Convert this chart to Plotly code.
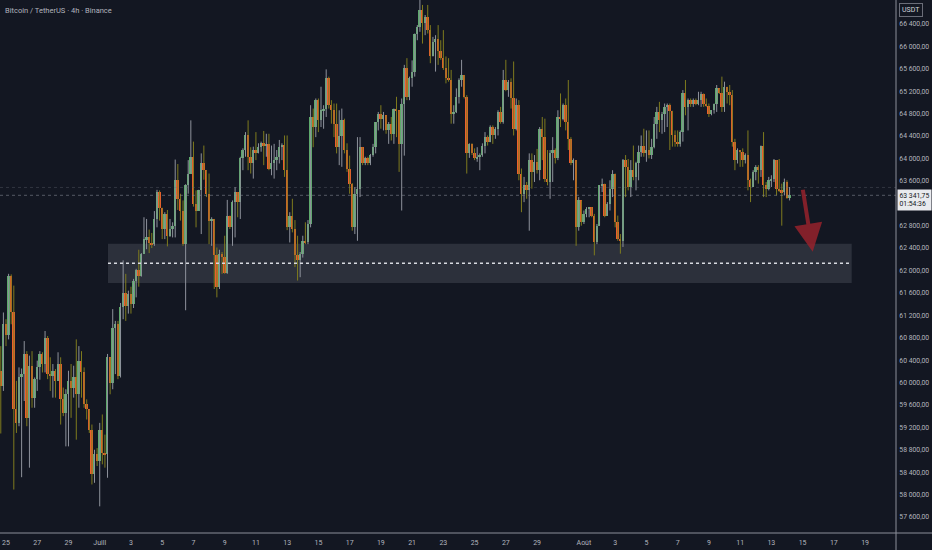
import pandas as pd
import plotly.graph_objects as go

# ---------------- data ----------------
first_time = "2024-06-24 16:00"   # first 4h candle
first_open = 60210

closes = [
    59940, 61040, 60850, 61910, 61250, 59520, 59280, 60090, 60150, 60510,
    59370, 60300, 59730, 60060, 60270, 60510, 60330, 60800, 60150, 60120,
    60210, 60030, 60330, 59700, 59460, 59790, 60030, 59910, 60090, 59790,
    60390, 60180, 59610, 59520, 59160, 58360, 58720, 58600, 59160, 58750,
    58720, 60450, 60000, 60980, 61040, 60120, 61340, 61590, 61370, 61580,
    61410, 61820, 62000, 61910, 62300, 62560, 62590, 62490, 62470, 62920,
    63400, 63120, 62740, 63010, 62620, 62740, 62790, 63620, 63280, 63070,
    62470, 63520, 63730, 64030, 63190, 63070, 63430, 63910, 63790, 63370,
    62890, 62920, 62270, 61700, 62300, 62240, 61950, 62980, 62770, 63220,
    63400, 63220, 64000, 64150, 64410, 64030, 63910, 64150, 64100, 64210,
    64280, 64230, 64260, 63820, 63910, 63970, 64030, 64210, 64240, 63790,
    62770, 62980, 62740, 62270, 62180, 62300, 62530, 62500, 62830, 64740,
    64560, 65040, 64680, 64860, 64890, 65430, 64950, 64860, 64620, 64210,
    64400, 64680, 64150, 63820, 63550, 62770, 63370, 63460, 64200, 63910,
    64000, 63910, 64070, 64200, 64650, 64800, 64710, 64770, 64500, 64620,
    64440, 64890, 64860, 64260, 64980, 65610, 65100, 65430, 65550, 66230,
    66350, 66650, 66410, 66530, 66290, 65820, 66080, 66140, 65910, 65790,
    65610, 65430, 65400, 64800, 64830, 65100, 65400, 65490, 65100, 64090,
    64260, 64090, 64000, 64030, 64060, 64230, 64380, 64290, 64560, 64410,
    64530, 64830, 64650, 65400, 65220, 65370, 65070, 64530, 64950, 63730,
    63370, 63520, 63430, 63970, 63760, 63940, 63790, 64530, 64380, 63640,
    63580, 64090, 64150, 64000, 64740, 64710, 64950, 64650, 64350, 63910,
    63970, 62770, 63250, 62860, 63010, 63100, 63130, 62980, 62500, 62800,
    63520, 63550, 62980, 63190, 63460, 63730, 62860, 62560, 62530, 63970,
    63850, 63490, 63790, 63670, 63910, 64120, 64230, 64090, 64150, 64060,
    64210, 64620, 64830, 64680, 64800, 64920, 64950, 64850, 64410, 64290,
    64260, 64470, 65160, 64920, 65040, 64980, 65040, 64980, 65040, 65150,
    64980, 64930, 64800, 64860, 64980, 65250, 65170, 64920, 65280, 65190,
    65130, 64290, 63970, 64150, 64120, 63970, 64060, 63610, 63490, 63760,
    63850, 63790, 64220, 63520, 63460, 63610, 63640, 63970, 63460, 63430,
    63400, 63580, 63300, 63341.75,
]

highs = [
    60650, 61250, 61130, 61940, 61930, 61730, 60030, 60270, 60250, 60740,
    60560, 60480, 60560, 60090, 60390, 60560, 60540, 60920, 60830, 60450,
    60330, 60240, 60540, 60450, 59910, 59880, 60210, 60330, 60300, 60770,
    60650, 60560, 60270, 59700, 59520, 59250, 58800, 58830, 59280, 59430,
    59070, 60510, 60330, 61310, 61100, 61100, 61420, 62180, 61940, 61640,
    61710, 61850, 62030, 62370, 62310, 62950, 62920, 62730, 62670, 63060,
    63440, 63430, 63120, 63040, 63080, 62920, 62860, 63980, 63900, 63370,
    63250, 63540, 63970, 64680, 64300, 63430, 63440, 64090, 64230, 63790,
    63730, 62950, 62920, 62410, 62370, 62330, 62620, 63260, 62980, 63250,
    63490, 63400, 64030, 64180, 64470, 64680, 64200, 64210, 64470, 64270,
    64300, 64490, 64440, 64440, 64230, 64260, 64150, 64330, 64270, 64410,
    64410, 63040, 63280, 62900, 62620, 62330, 62620, 62860, 62900, 64950,
    64890, 65070, 65070, 65280, 64950, 65590, 65460, 65040, 64980, 64980,
    64860, 64890, 64710, 64270, 64050, 63560, 63490, 64380, 64380, 64200,
    64030, 64030, 64080, 64260, 64650, 64830, 64950, 64830, 64740, 64650,
    64740, 64890, 65100, 64860, 65070, 65670, 65790, 65460, 65750, 66230,
    66380, 66830, 66740, 66560, 66740, 66380, 66170, 66200, 66380, 66110,
    66290, 65820, 65790, 65580, 64950, 65250, 65430, 65760, 65490, 65130,
    64270, 64270, 64180, 64200, 64090, 64270, 64470, 64410, 64590, 64590,
    64560, 64860, 64920, 65580, 65760, 65400, 65430, 65730, 65070, 65040,
    63820, 63670, 63580, 64090, 64090, 64060, 64170, 64560, 64740, 64710,
    64150, 64150, 64380, 64180, 64860, 65160, 64980, 65070, 65400, 64380,
    64000, 63850, 63310, 63070, 63070, 63130, 63130, 63100, 63010, 62830,
    63520, 63640, 63550, 63220, 63610, 63790, 63580, 62980, 62650, 63990,
    64060, 63990, 63970, 64230, 63940, 64230, 64410, 64530, 64500, 64500,
    64350, 64740, 64920, 65010, 64830, 64980, 64980, 64980, 64830, 64500,
    64500, 64500, 65220, 65400, 65070, 65070, 65070, 65070, 65190, 65190,
    65160, 65070, 64980, 64860, 64980, 65310, 65250, 65460, 65370, 65220,
    65310, 65220, 64350, 64180, 64150, 64180, 64090, 64500, 63640, 63790,
    63880, 63880, 64230, 64470, 63580, 63670, 63700, 63990, 63910, 63990,
    63550, 63640, 63610, 63490,
]

lows = [
    59090, 59850, 60650, 60770, 61040, 58090, 59100, 59220, 58310, 59670,
    59220, 58480, 59550, 59550, 59850, 60050, 60180, 60180, 60060, 59850,
    59730, 59730, 60030, 59250, 59400, 58860, 58860, 59370, 59730, 58980,
    59550, 59730, 59550, 59340, 59100, 58180, 58210, 58510, 57790, 58540,
    58480, 58300, 59790, 59880, 60150, 60060, 60090, 61130, 61100, 61230,
    61230, 61330, 61520, 61710, 61890, 62410, 62380, 62310, 62400, 62440,
    62770, 62890, 62560, 62560, 62430, 62600, 62590, 62590, 63080, 62890,
    62440, 61290, 63370, 63730, 63140, 62770, 63070, 62650, 63620, 63310,
    62470, 62440, 61670, 61520, 61670, 61940, 61940, 61940, 62740, 62440,
    62590, 62950, 62920, 63790, 64030, 63790, 63730, 63640, 63970, 64090,
    64120, 63880, 64030, 63790, 63700, 63640, 63790, 63910, 63970, 63670,
    62720, 62500, 62680, 62060, 61820, 61880, 62230, 62470, 62470, 62770,
    64200, 64380, 64470, 64560, 64530, 64740, 64890, 64620, 64380, 64090,
    63880, 63850, 64090, 63760, 63370, 62710, 62650, 62530, 63310, 63880,
    63880, 63880, 63880, 64030, 64090, 64500, 64530, 64500, 64440, 64260,
    64320, 64260, 64380, 63760, 63070, 64050, 65040, 65040, 65280, 65460,
    66110, 66260, 66050, 66200, 66230, 65700, 65820, 65550, 65670, 65760,
    65580, 65340, 65370, 64620, 64620, 64810, 64980, 65280, 65070, 63730,
    64010, 64060, 63970, 63940, 63790, 64030, 64090, 64230, 64320, 64260,
    64350, 64410, 64620, 64620, 65200, 65100, 64890, 64410, 64500, 63610,
    63040, 63220, 63280, 62710, 63460, 63580, 63730, 63610, 63970, 63580,
    63520, 63280, 63580, 63910, 63970, 64560, 64680, 64500, 64150, 63880,
    63610, 62440, 62710, 62800, 62830, 62950, 62950, 62950, 62270, 62470,
    62800, 63400, 62950, 63040, 63070, 63310, 62770, 62530, 62300, 62420,
    63310, 63430, 63310, 63610, 63430, 63610, 64030, 64030, 63940, 64000,
    63990, 64180, 64350, 64470, 64440, 64470, 64560, 64150, 64210, 64210,
    64210, 64210, 64300, 64770, 64500, 64920, 64920, 64950, 64950, 64920,
    64920, 64920, 64740, 64770, 64800, 64830, 65150, 64830, 64830, 64980,
    64950, 64210, 63790, 63910, 63850, 63850, 63910, 63430, 63220, 63520,
    63610, 63550, 63670, 63310, 63310, 63430, 63490, 63580, 63340, 63400,
    62800, 63340, 63280, 63250,
]

# x-axis tick labels (every two days)
tick_dates = [
    "2024-06-25", "2024-06-27", "2024-06-29", "2024-07-01", "2024-07-03",
    "2024-07-05", "2024-07-07", "2024-07-09", "2024-07-11", "2024-07-13",
    "2024-07-15", "2024-07-17", "2024-07-19", "2024-07-21", "2024-07-23",
    "2024-07-25", "2024-07-27", "2024-07-29", "2024-08-01", "2024-08-03",
    "2024-08-05", "2024-08-07", "2024-08-09", "2024-08-11", "2024-08-13",
    "2024-08-15", "2024-08-17", "2024-08-19",
]
tick_labels = [
    "25", "27", "29", "Juill", "3", "5", "7", "9", "11", "13", "15", "17",
    "19", "21", "23", "25", "27", "29", "Août", "3", "5", "7", "9", "11",
    "13", "15", "17", "19",
]
price_ticks = [57600, 58000, 58400, 58800, 59200, 59600, 60000, 60400, 60800,
               61200, 61600, 62000, 62400, 62800, 63600, 64000, 64400, 64800,
               65200, 65600, 66000, 66400]

# drawings
zone_start, zone_end = "2024-07-01 12:43", "2024-08-18 03:25"
zone_low, zone_high, zone_mid = 61777, 62475, 62127
arrow_tail = ("2024-08-15 00:00", 63467)
arrow_tip = ("2024-08-15 15:30", 62336)
last_price = 63341.75
countdown = "01:54:36"
upper_line_price = 63482

x_range = ["2024-06-24 14:47", "2024-08-20 23:30"]
y_range = [57314, 66828]

# ---------------- styles ----------------
BG = "#131722"
UP_BODY = "#5ea96c"
DN_BODY = "#ec5f2e"
UP_WICK = "#8e929c"
DN_WICK = "#7f7b1e"
TXT = "#b2b5be"
FONT = "Roboto, Liberation Sans, sans-serif"

times = pd.date_range(pd.Timestamp(first_time), periods=len(closes), freq="4h")
opens = [first_open] + closes[:-1]
hi = [max(h, o, c) for h, o, c in zip(highs, opens, closes)]
lo = [min(l, o, c) for l, o, c in zip(lows, opens, closes)]
up = [c >= o for o, c in zip(opens, closes)]

fig = go.Figure()

for is_up, color in ((True, UP_WICK), (False, DN_WICK)):
    xs, ys = [], []
    for t, h, l, u in zip(times, hi, lo, up):
        if u == is_up:
            xs += [t, t, None]
            ys += [l, h, None]
    fig.add_trace(go.Scatter(x=xs, y=ys, mode="lines",
                             line=dict(color=color, width=1),
                             hoverinfo="skip", showlegend=False))

bases = [min(o, c) for o, c in zip(opens, closes)]
heights = [max(abs(c - o), 16) for o, c in zip(opens, closes)]
colors = [UP_BODY if u else DN_BODY for u in up]
fig.add_trace(go.Bar(x=times, y=heights, base=bases,
                     marker=dict(color=colors, line=dict(width=0)),
                     width=4 * 3600 * 1000 * 0.72, showlegend=False,
                     hoverinfo="skip"))

shapes = [
    dict(type="rect", xref="x", yref="y", x0=zone_start, x1=zone_end,
         y0=zone_low, y1=zone_high, fillcolor="rgba(120,123,134,0.25)",
         line=dict(width=0), layer="below"),
    dict(type="line", xref="x", yref="y", x0=zone_start, x1=zone_end,
         y0=zone_mid, y1=zone_mid, line=dict(color="#d8dae0", width=1.5, dash="dot")),
    dict(type="line", xref="paper", yref="y", x0=0, x1=1,
         y0=last_price, y1=last_price,
         line=dict(color="rgba(140,143,153,0.55)", width=1, dash="dot")),
    dict(type="line", xref="paper", yref="y", x0=0, x1=1,
         y0=upper_line_price, y1=upper_line_price,
         line=dict(color="rgba(110,113,123,0.35)", width=1, dash="dot")),
    dict(type="line", xref="paper", yref="paper", x0=0, x1=1.05, y0=0, y1=0,
         line=dict(color="#8c8f99", width=1)),
    dict(type="line", xref="paper", yref="paper", x0=1, x1=1, y0=-0.04, y1=1,
         line=dict(color="#8c8f99", width=1)),
]

annotations = [
    dict(text="Bitcoin / TetherUS · 4h · Binance", xref="paper", yref="paper",
         x=0, y=1, xanchor="left", yanchor="top", xshift=3, yshift=-4,
         showarrow=False, font=dict(family=FONT, size=7.5, color=TXT)),
    dict(x=arrow_tip[0], y=arrow_tip[1], ax=arrow_tail[0], ay=arrow_tail[1],
         xref="x", yref="y", axref="x", ayref="y", text="", showarrow=True,
         arrowhead=2, arrowsize=1.4, arrowwidth=4, standoff=0,
         arrowcolor="rgba(150,34,44,0.85)"),
    dict(text="USDT", xref="paper", yref="paper", x=1, y=1, xanchor="left",
         yanchor="top", xshift=3, yshift=-3, showarrow=False,
         bgcolor=BG, bordercolor="#6a6d78", borderwidth=1, borderpad=2,
         font=dict(family=FONT, size=7, color="#d1d4dc")),
    dict(text=f"{last_price:,.2f}".replace(",", " ").replace(".", ",") + "<br>" + countdown,
         xref="paper", yref="y", x=1, y=last_price, xanchor="left", yanchor="top",
         xshift=1, yshift=6, showarrow=False, align="left",
         bgcolor="#e9eaee", borderpad=1.5,
         font=dict(family=FONT, size=6.8, color="#131722")),
]

fig.update_layout(
    width=932, height=550,
    margin=dict(l=0, r=36, t=0, b=17),
    paper_bgcolor=BG, plot_bgcolor=BG,
    separators=", ",
    bargap=0, showlegend=False,
    shapes=shapes, annotations=annotations,
    xaxis=dict(type="date", range=x_range, showgrid=False, zeroline=False,
               tickvals=tick_dates, ticktext=tick_labels, ticks="outside",
               ticklen=3, tickcolor=BG, showline=False, automargin=False,
               tickfont=dict(family=FONT, size=7, color=TXT),
               rangeslider=dict(visible=False), fixedrange=True),
    yaxis=dict(side="right", range=y_range, showgrid=False, zeroline=False,
               tickvals=price_ticks, tickformat=",.2f", ticks="outside",
               ticklen=1, tickcolor=BG, showline=False, automargin=False,
               tickfont=dict(family=FONT, size=6.8, color=TXT), fixedrange=True),
)

fig.write_html(
    "out.html",
    config={"displayModeBar": False},
    post_script="document.body.style.margin='0';document.body.style.background='#131722';",
)
